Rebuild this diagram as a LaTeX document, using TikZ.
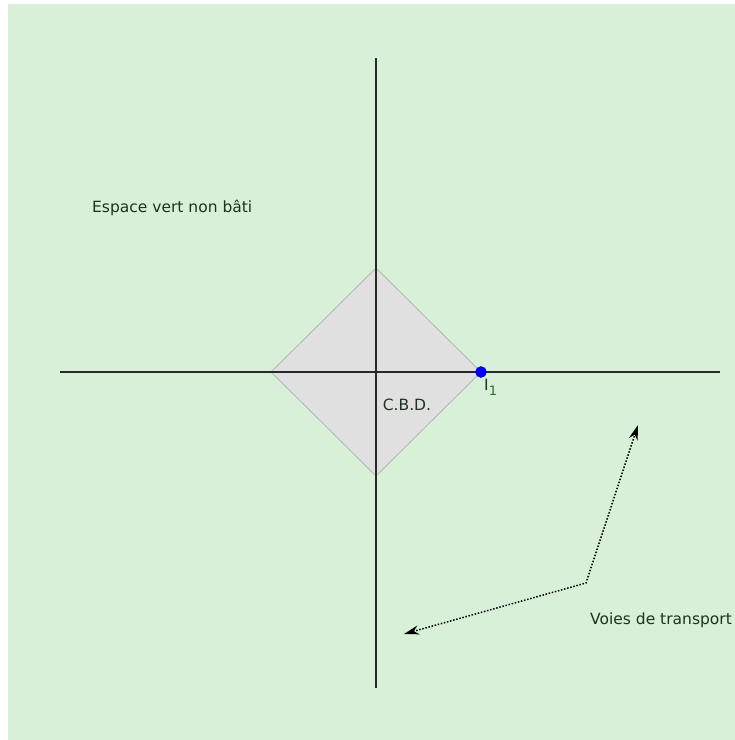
\documentclass[tikz,border=0pt]{standalone}
\usepackage{fontspec}
\setmainfont{DejaVu Sans}
\usetikzlibrary{arrows.meta}
\definecolor{bggreen}{RGB}{216,240,216}
\definecolor{cbdgray}{RGB}{224,224,224}
\definecolor{cbdedge}{RGB}{180,190,180}
\definecolor{axiscol}{RGB}{40,40,40}
\definecolor{txtcol}{RGB}{28,52,28}
\definecolor{subcol}{RGB}{40,110,40}
\tikzset{
  axisline/.style={draw=axiscol, line width=1.4pt},
  lbl/.style={inner sep=0pt, text=txtcol, font=\fontsize{15.5}{18}\selectfont},
  roadarrow/.style={draw=black, line width=1.5pt, dash pattern=on 1.5pt off 1.7pt, {Stealth[length=15pt,width=9pt]}-{Stealth[length=15pt,width=9pt]}},
}
\begin{document}
\begin{tikzpicture}[x=1pt,y=-1pt]
\useasboundingbox (0,0) rectangle (735,740);
\fill[bggreen] (8,4) rectangle (735,740);
% coordinates
\coordinate (top) at (376,58);
\coordinate (bot) at (376,688);
\coordinate (lft) at (60,372);
\coordinate (rgt) at (720,372);
\coordinate (dT) at (376,268);
\coordinate (dB) at (376,476);
\coordinate (dL) at (271,372);
\coordinate (dR) at (481,372);
% CBD diamond
\filldraw[fill=cbdgray, draw=cbdedge, line width=1pt] (dT) -- (dR) -- (dB) -- (dL) -- cycle;
% axes
\draw[axisline] (lft) -- (rgt);
\draw[axisline] (top) -- (bot);
% point I1
\node (I1) [circle, fill=blue, draw={rgb,255:red,0;green,0;blue,170}, line width=0.4pt, inner sep=0pt, minimum size=11pt] at (dR) {};
\node (I1lbl) [lbl, anchor=north west] at (484,379) {I\raisebox{-5pt}{\fontsize{13}{15}\selectfont\color{subcol}1}};
% labels
\node (cbd) [lbl] at (407,405) {C.B.D.};
\node (espace) [lbl, anchor=west] at (92,208) {Espace vert non bâti};
\node (voies) [lbl, anchor=west] at (590,620) {Voies de transport};
% transport arrows
\coordinate (corner) at (586,583);
\coordinate (tipA) at (404,634);
\coordinate (tipB) at (638,425);
\draw[roadarrow] (tipA) -- (corner) -- (tipB);
\end{tikzpicture}
\end{document}
